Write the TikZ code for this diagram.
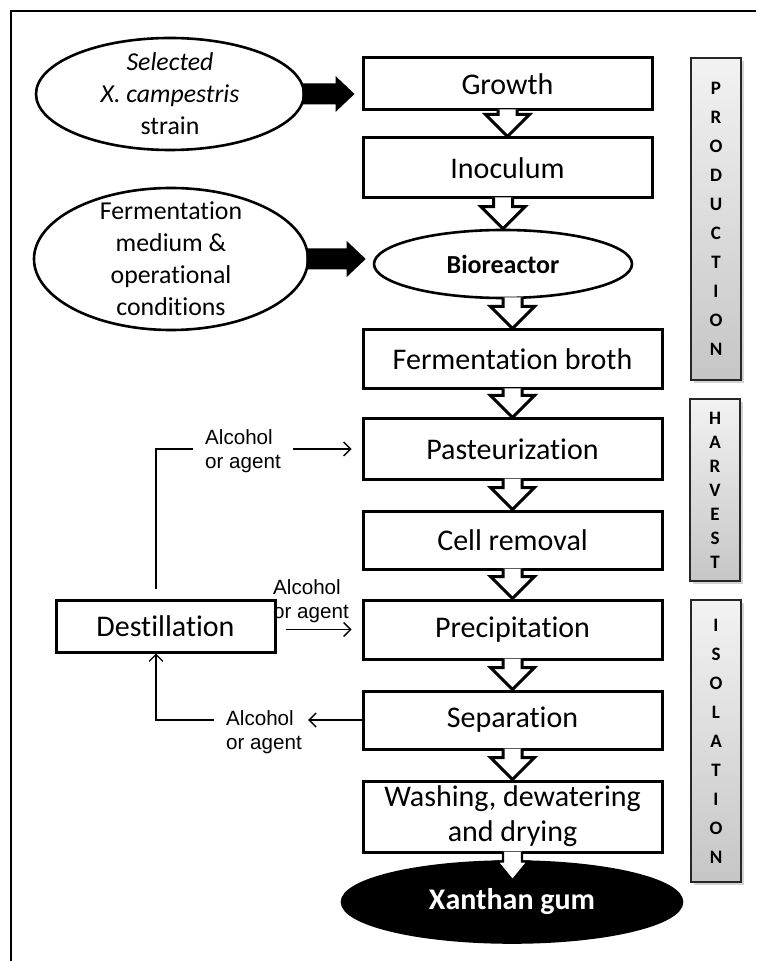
\documentclass[tikz,border=0pt]{standalone}
\usepackage{fontspec}
\setmainfont{Carlito}[Ligatures=NoCommon]
\newfontfamily\agentfont{Liberation Sans}
\usetikzlibrary{shapes.geometric, arrows.meta, calc, shadows}

\tikzset{
  stage/.style={draw, line width=1.5pt, fill=white, inner sep=0pt, align=center,
    minimum width=149.5pt, font=\fontsize{15}{17.5}\selectfont},
  source/.style={ellipse, draw, line width=1.3pt, fill=white, inner sep=-10pt, align=center,
    font=\fontsize{12.9}{16}\selectfont},
  agent/.style={inner sep=3pt, align=left, font=\agentfont\fontsize{10.3}{12}\selectfont},
  feed/.style={line width=0.7pt, -{Straight Barb[length=3.5pt,width=7pt]}},
  phase/.style={draw=black!85, line width=0.8pt, top color=gray!10, bottom color=gray!45,
    drop shadow={shadow xshift=1.5pt, shadow yshift=-1.5pt, opacity=0.35},
    minimum width=25pt, inner sep=0pt, align=center, font=\fontsize{9.5}{#1}\selectfont\bfseries},
}

% hollow block arrow from one stage down to the next
\newcommand{\stagearrow}[2]{%
  \path (#2) coordinate (sa-tip) (#1.south -| sa-tip) coordinate (sa-top);
  \filldraw[fill=white, line width=1.5pt]
    ($(sa-top)+(-9.5,-2)$) -- ($(sa-tip)+(-9.5,-22)$) -- ($(sa-tip)+(-22,-22)$) -- (sa-tip)
    -- ($(sa-tip)+(22,-22)$) -- ($(sa-tip)+(9.5,-22)$) -- ($(sa-top)+(9.5,-2)$);
}
% solid black arrow from an input to the flow
\newcommand{\supplyarrow}[2]{%
  \path (#1.east) coordinate (su-start) ($(#1.east -| #2.west)+(-7,0)$) coordinate (su-tip);
  \fill ($(su-start)+(-3,-10.5)$) -- ($(su-tip)+(-19,-10.5)$) -- ($(su-tip)+(-19,-18)$) -- (su-tip)
    -- ($(su-tip)+(-19,18)$) -- ($(su-tip)+(-19,10.5)$) -- ($(su-start)+(-3,10.5)$) -- cycle;
}

\begin{document}
\begin{tikzpicture}[x=0.5pt, y=-0.5pt]
    \useasboundingbox (0,0) rectangle (756,961);
    \draw[line width=0.6pt] (756,11) -- (11,11) -- (11,961);

    % Inputs
    \node[source, minimum width=134pt, minimum height=56pt] (strain) at (170,94)
        {\textit{Selected}\\\textit{X. campestris}\\strain};
    \node[source, minimum width=137pt, minimum height=71pt] (medium) at (171,259)
        {Fermentation\\medium \&\\operational\\conditions};

    % Main flow
    \node[stage, minimum width=144.5pt, minimum height=26pt] (grow) at (507.5,84) {Growth};
    \node[stage, minimum width=144.5pt, minimum height=30pt] (inoc) at (507.5,168) {Inoculum};
    \node[source, minimum width=129pt, minimum height=34pt,
        font=\fontsize{13}{16}\selectfont\bfseries] (bio) at (503,264) {Bioreactor};
    \node[stage, minimum height=29.5pt] (broth) at (512.5,359.5) {Fermentation broth};
    \node[stage, minimum height=30pt] (past) at (512.5,449) {Pasteurization};
    \node[stage, minimum height=29pt] (cell) at (512.5,540) {Cell removal};
    \node[stage, minimum height=29.5pt] (prec) at (512.5,629.5) {Precipitation};
    \node[stage, minimum height=29pt] (sep) at (512.5,720) {Separation};
    \node[stage, minimum height=35.5pt] (wash) at (512.5,816.5) {Washing, dewatering\\and drying};
    \node[source, fill=black, text=white, minimum width=170pt, minimum height=40.5pt,
        font=\fontsize{15}{17}\selectfont\bfseries] (xan) at (512,902) {Xanthan gum};
    \node[stage, minimum width=109.5pt, minimum height=26pt] (dest) at (165.5,626) {Destillation};

    % Block arrows
    \supplyarrow{strain}{grow}
    \supplyarrow{medium}{bio}
    \stagearrow{grow}{inoc.north}
    \stagearrow{inoc}{bio.north}
    \stagearrow{bio}{broth.north}
    \stagearrow{broth}{past.north}
    \stagearrow{past}{cell.north}
    \stagearrow{cell}{prec.north}
    \stagearrow{prec}{sep.north}
    \stagearrow{sep}{wash.north}
    \filldraw[fill=white, line width=1.2pt] ($(wash.south)+(-9.5,-2)$) -- ($(wash.south)+(-9.5,8)$)
        -- ($(wash.south)+(-15.5,8)$) -- ($(wash.south)+(0,27)$) -- ($(wash.south)+(15.5,8)$)
        -- ($(wash.south)+(9.5,8)$) -- ($(wash.south)+(9.5,-2)$);

    % Alcohol recovery loop
    \coordinate (ret) at (156,626);
    \draw[feed, shorten <=5pt, shorten >=5pt] (ret |- dest.north) |- (past.west);
    \node[agent, fill=white, inner xsep=6pt] (agentA) at (243,451) {Alcohol\\or agent};
    \node[agent] (agentB) at (311,601) {Alcohol\\or agent};
    \draw[feed, shorten <=4.5pt, shorten >=5pt] (prec.west -| dest.east) -- (prec.west);
    \node[agent] (agentC) at (264,732) {Alcohol\\or agent};
    \draw[feed] (sep.west) -- (agentC.east |- sep.west);
    \draw[feed, shorten <=3pt] (agentC.west |- sep.west) -| (ret |- dest.south);

    % Phases
    \node[phase=14.5, minimum height=161pt] (prod) at (716,219) {P\\R\\O\\D\\U\\C\\T\\I\\O\\N};
    \node[phase=12, minimum height=91pt] (harv) at (715,490) {H\\A\\R\\V\\E\\S\\T};
    \node[phase=14.5, minimum height=141pt] (isol) at (716,741) {I\\S\\O\\L\\A\\T\\I\\O\\N};
\end{tikzpicture}
\end{document}
